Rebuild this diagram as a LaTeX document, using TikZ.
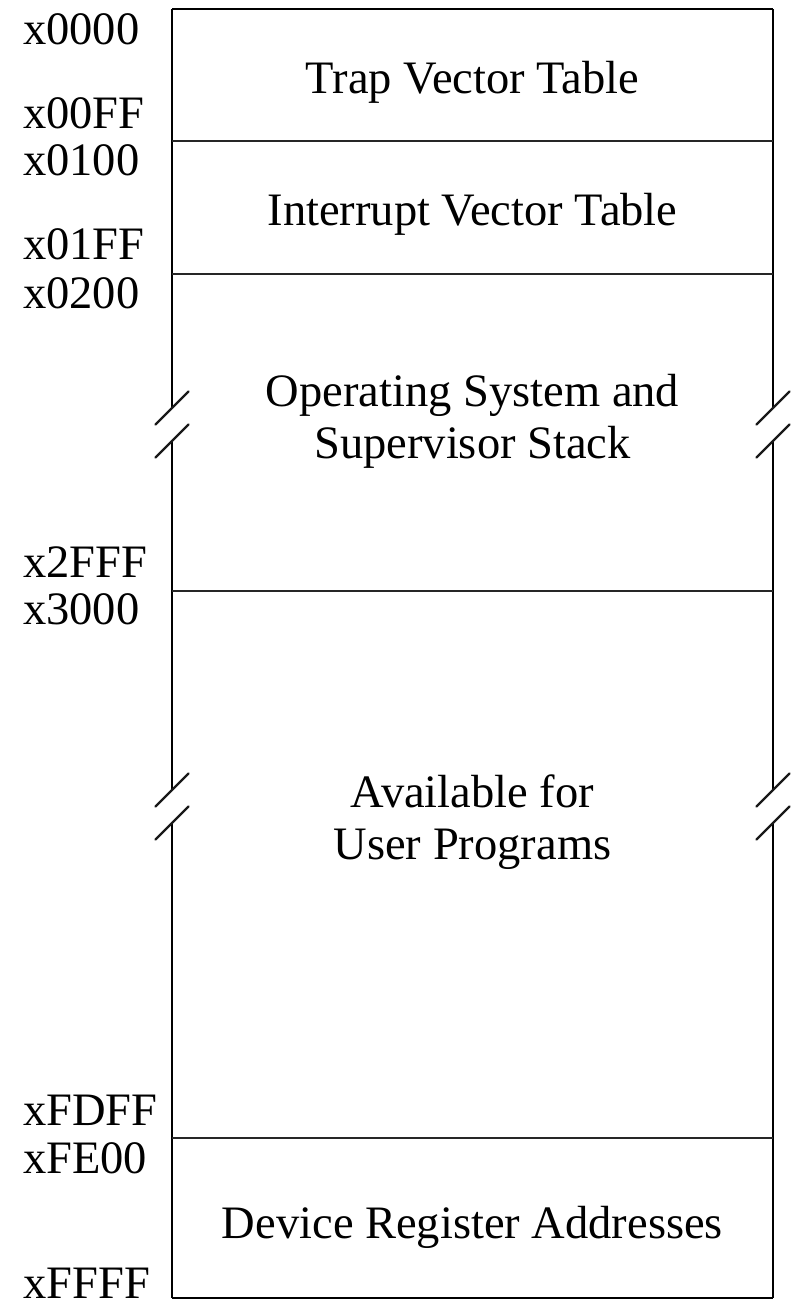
\documentclass[tikz,border=0pt]{standalone}
\usepackage{fontspec}
\setmainfont{Liberation Serif}
\begin{document}
\begin{tikzpicture}[x=1pt,y=-1pt,
  side/.style={line width=1.4pt,black},
  divider/.style={line width=1.2pt,black!85},
  breakmark/.style={line width=2.4pt,black!90,line cap=round},
  addr/.style={anchor=base west,inner sep=0pt,font=\fontsize{46.5}{52}\selectfont},
  region/.style={inner sep=0pt,align=center,font=\fontsize{46.5}{52}\selectfont}]
\useasboundingbox (0,0) rectangle (791,1307);

% box frame corners and break points
\coordinate (tl) at (172,9);   \coordinate (tr) at (773,9);
\coordinate (bl) at (172,1298); \coordinate (br) at (773,1298);

% left and right sides, interrupted at the two breaks
\draw[side] (172,9) -- (172,408) (172,441) -- (172,790) (172,823) -- (172,1298);
\draw[side] (773,9) -- (773,408) (773,441) -- (773,790) (773,823) -- (773,1298);
\draw[side] (tl) -- (tr);
\draw[side] (bl) -- (br);

% region boundaries
\foreach \y in {141,274,591,1138}
  \draw[divider] (172,\y) -- (773,\y);

% break marks
\foreach \x in {172,773}
  \foreach \y in {408,441,790,823}
    \draw[breakmark] (\x-16.5,\y+16.5) -- (\x+16.5,\y-16.5);

% region names
\node[region,anchor=base] (trap) at (472.5,93) {Trap Vector Table};
\node[region,anchor=base] (intr) at (472.5,225) {Interrupt Vector Table};
\node[region] (os) at (472.5,421) {Operating System and\\Supervisor Stack};
\node[region] (user) at (472.5,822) {Available for\\User Programs};
\node[region,anchor=base] (dev) at (472.5,1238) {Device Register Addresses};

% addresses
\node[addr] (a0000) at (23,44) {x0000};
\node[addr] (a00FF) at (23,128) {x00FF};
\node[addr] (a0100) at (23,175) {x0100};
\node[addr] (a01FF) at (23,259) {x01FF};
\node[addr] (a0200) at (23,308) {x0200};
\node[addr] (a2FFF) at (23,577) {x2FFF};
\node[addr] (a3000) at (23,624) {x3000};
\node[addr] (aFDFF) at (23,1125) {xFDFF};
\node[addr] (aFE00) at (23,1173) {xFE00};
\node[addr] (aFFFF) at (23,1298) {xFFFF};
\end{tikzpicture}
\end{document}
